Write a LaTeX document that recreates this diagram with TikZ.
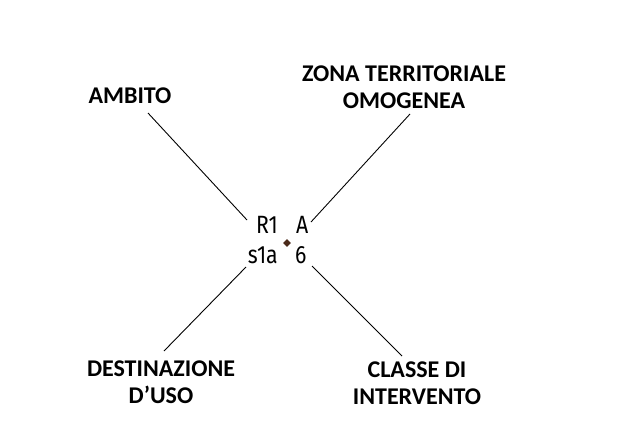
\documentclass[tikz,border=0pt]{standalone}
\usepackage{fontspec}
\usetikzlibrary{shapes.geometric}
\setmainfont{Carlito}
\newfontfamily\codefont[FakeStretch=0.85]{Fira Sans}
\definecolor{dotbrown}{HTML}{4B2A1A}
\tikzset{
  lbl/.style={font=\fontsize{24}{27}\selectfont\bfseries, align=center, inner sep=0pt, anchor=base},
  code/.style={font=\codefont\fontsize{25}{30}\selectfont, inner sep=0pt},
  conn/.style={draw=black, line width=0.9pt}
}
\begin{document}
\begin{tikzpicture}[x=1pt,y=-1pt]
\useasboundingbox[fill=white] (0,0) rectangle (629,421);
% labels (base = baseline of last line)
\node[lbl] (ambito) at (130,103) {AMBITO};
\node[lbl] (zona) at (404,108) {ZONA TERRITORIALE\\OMOGENEA};
\node[lbl] (dest) at (161,403) {DESTINAZIONE\\D’USO};
\node[lbl] (classe) at (417,404) {CLASSE DI\\INTERVENTO};
% central code
\node[code, anchor=base east] (r1) at (278,233) {R1};
\node[code, anchor=base west] (a) at (296,233) {A};
\node[code, anchor=base east] (s1a) at (278,263) {s1a};
\node[code, anchor=base west] (six) at (295,263) {6};
\node[diamond, fill=dotbrown, inner sep=0pt, minimum size=8pt] (dot) at (287,243) {};
% connector ends
\coordinate (nw1) at (148,113); \coordinate (nw2) at (247,220);
\coordinate (ne1) at (410,114); \coordinate (ne2) at (311,222);
\coordinate (sw1) at (246,267); \coordinate (sw2) at (164,351);
\coordinate (se1) at (312,266); \coordinate (se2) at (402,356);
\draw[conn] (nw1) -- (nw2);
\draw[conn] (ne1) -- (ne2);
\draw[conn] (sw1) -- (sw2);
\draw[conn] (se1) -- (se2);
\end{tikzpicture}
\end{document}
